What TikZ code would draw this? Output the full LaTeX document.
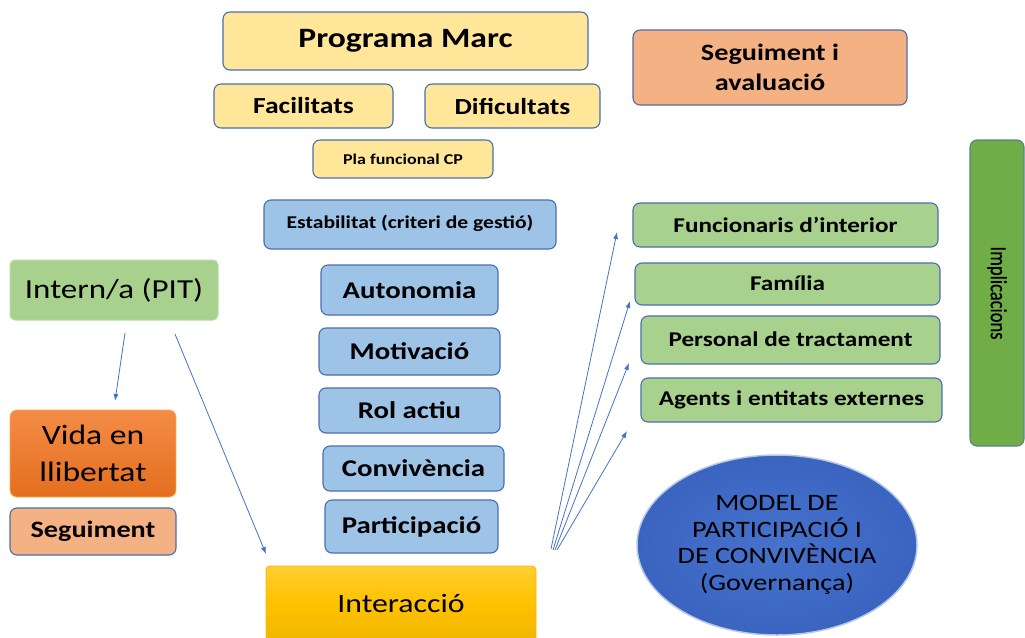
\documentclass[tikz,border=0pt]{standalone}
\usepackage{fontspec}
\setmainfont[FakeStretch=1.2]{Carlito}
\newfontfamily\plainfont[FakeBold=0.6]{Carlito}
\usetikzlibrary{shapes.geometric,arrows.meta}
\definecolor{bord}{HTML}{4A6FAE}
\definecolor{yelf}{HTML}{FFE699}
\definecolor{bluef}{HTML}{9DC3E6}
\definecolor{salm}{HTML}{F4B183}
\definecolor{grnf}{HTML}{A9D18E}
\definecolor{grnd}{HTML}{70AD47}
\definecolor{arr}{HTML}{4472C4}
\tikzset{
  box/.style={draw=bord, rounded corners=7pt, line width=1.1pt, inner sep=0pt, align=center, font=\bfseries},
  yelbox/.style={box, fill=yelf},
  bluebox/.style={box, fill=bluef},
  salmbox/.style={box, fill=salm},
  grnbox/.style={box, fill=grnf},
  conn/.style={draw=arr, line width=0.8pt, -{Latex[length=7pt,width=5pt]}},
}
\newcommand{\fs}[1]{\fontsize{#1}{#1}\selectfont}
\newcommand{\fsl}[2]{\fontsize{#1}{#2}\selectfont}
\begin{document}
\begin{tikzpicture}[x=1pt,y=-1pt]
\useasboundingbox (0,0) rectangle (1025,637);
% top yellow
\node[yelbox, minimum width=365pt, minimum height=58pt, font=\bfseries\fs{28}] (pm) at (405.5,41) {Programa Marc};
\node[yelbox, minimum width=179pt, minimum height=44pt, font=\bfseries\fs{23}] (fac) at (303.5,106) {Facilitats};
\node[yelbox, minimum width=175pt, minimum height=44pt, font=\bfseries\fs{23}] (dif) at (512.5,106) {Dificultats};
\node[yelbox, minimum width=180pt, minimum height=38pt, font=\bfseries\fs{15}] (pla) at (403,159) {Pla funcional CP};
% seguiment i avaluacio
\node[salmbox, minimum width=274pt, minimum height=75pt, font=\bfseries\fsl{23.5}{30}] (sa) at (770,67.5) {Seguiment i\\avaluació};
% blue column
\node[bluebox, minimum width=292pt, minimum height=49pt, font=\bfseries\fs{18}] (est) at (410,224.5) {\raisebox{6pt}{Estabilitat (criteri de gestió)}};
\node[bluebox, minimum width=177pt, minimum height=50pt, font=\bfseries\fs{24}] (aut) at (409.5,290) {Autonomia};
\node[bluebox, minimum width=181pt, minimum height=47pt, font=\bfseries\fs{24}] (mot) at (409.5,351.5) {Motivació};
\node[bluebox, minimum width=181pt, minimum height=45pt, font=\bfseries\fs{24}] (rol) at (409.5,410.5) {Rol actiu};
\node[bluebox, minimum width=181pt, minimum height=45pt, font=\bfseries\fs{24}] (con) at (413.5,468.5) {Convivència};
\node[bluebox, minimum width=173pt, minimum height=53pt, font=\bfseries\fs{24}] (par) at (411.5,526.5) {Participació};
% interaccio
\node[rounded corners=4pt, draw=orange!60!yellow, line width=0.8pt, top color={rgb,255:red,255;green,206;blue,50}, bottom color={rgb,255:red,240;green,182;blue,0}, middle color={rgb,255:red,255;green,194;blue,0}, minimum width=270pt, minimum height=75pt, inner sep=0pt, font=\fs{26.5}] (int) at (401,603.5) {Interacció};
% left
\node[draw=grnf!80!white, fill=grnf, rounded corners=5pt, line width=1pt, minimum width=208pt, minimum height=60pt, inner sep=0pt, font=\fs{27.5}] (pit) at (114,290) {Intern/a (PIT)};
\node[draw=orange!70, rounded corners=7pt, line width=0.8pt, top color={rgb,255:red,244;green,140;blue,70}, bottom color={rgb,255:red,228;green,110;blue,30}, minimum width=166pt, minimum height=87pt, inner sep=0pt, align=center, font=\fsl{28}{37}] (vida) at (93,453.5) {Vida en\\llibertat};
\node[salmbox, minimum width=166pt, minimum height=47pt, font=\bfseries\fs{23.5}] (seg) at (93,531.5) {Seguiment};
% right green
\node[grnbox, minimum width=305pt, minimum height=44pt, font=\bfseries\fs{21}] (fun) at (785.5,225) {Funcionaris d’interior};
\node[grnbox, minimum width=305pt, minimum height=42pt, font=\bfseries\fs{21}] (fam) at (787.5,284) {\raisebox{2pt}{Família}};
\node[grnbox, minimum width=299pt, minimum height=48pt, font=\bfseries\fs{21}] (per) at (790.5,340) {\raisebox{2pt}{Personal de tractament}};
\node[grnbox, minimum width=301pt, minimum height=44pt, font=\bfseries\fs{21}] (age) at (791.5,400) {Agents i entitats externes};
% implicacions
\node[draw=bord!70!grnd, fill=grnd, rounded corners=7pt, line width=1.1pt, minimum width=54pt, minimum height=306pt, inner sep=0pt] (imp) at (997,293) {};
\node[rotate=-90, font=\plainfont\fs{18.5}] (impt) at (imp.center) {\scalebox{1}[1.25]{Implicacions}};
% ellipse
\node[ellipse, draw=white!60!arr, line width=1.5pt, inner color={rgb,255:red,70;green,114;blue,204}, outer color={rgb,255:red,58;green,100;blue,192}, minimum width=280pt, minimum height=180pt, inner sep=0pt] (mod) at (777,545) {};
\node[align=center, inner sep=0pt, font=\fsl{23.5}{26.5}] (modt) at (mod.center) {MODEL DE\\PARTICIPACIÓ I\\DE CONVIVÈNCIA\\(Governança)};
% connectors
\coordinate (p1) at (125,333);
\coordinate (v1) at (115,401);
\coordinate (p2) at (175,334);
\coordinate (i1) at (266,554);
\coordinate (o1) at (551,549);
\coordinate (o2) at (553,550);
\coordinate (o3) at (555,550);
\coordinate (o4) at (557,550);
\coordinate (t1) at (617,232);
\coordinate (t2) at (630,301);
\coordinate (t3) at (629,363);
\coordinate (t4) at (627,431);
\draw[conn] (p1) -- (v1);
\draw[conn] (p2) -- (i1);
\draw[conn] (o1) -- (t1);
\draw[conn] (o2) -- (t2);
\draw[conn] (o3) -- (t3);
\draw[conn] (o4) -- (t4);
\end{tikzpicture}
\end{document}
